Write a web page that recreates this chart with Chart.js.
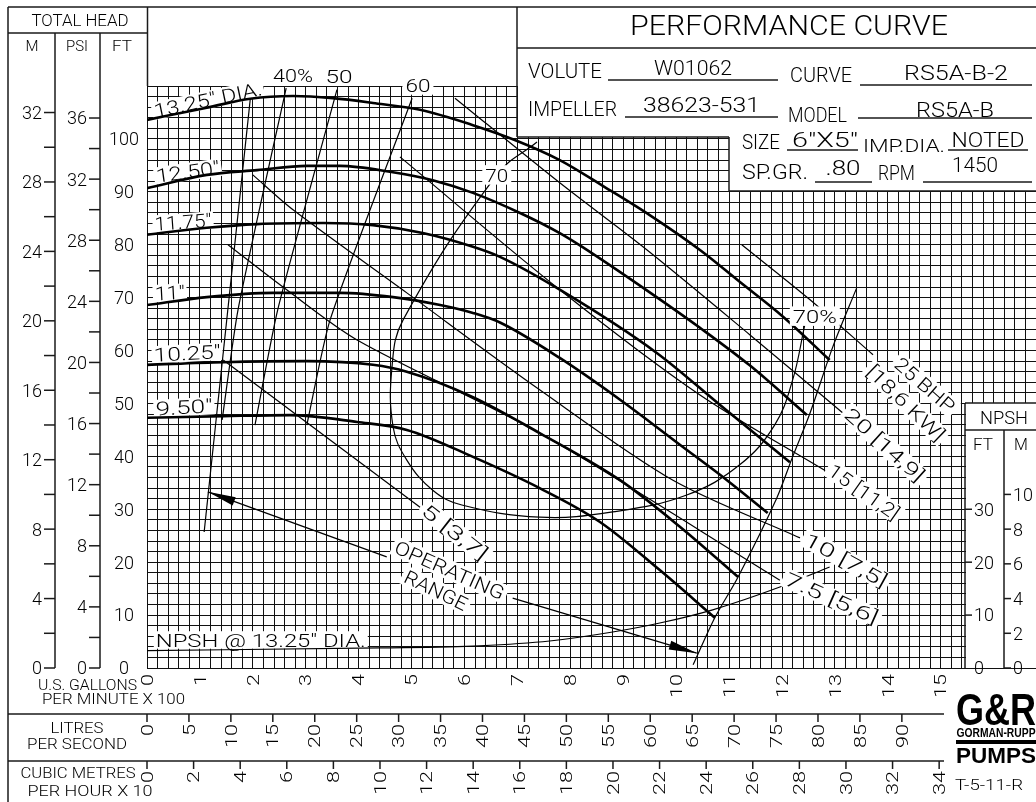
<!DOCTYPE html>
<html>
<head>
<meta charset="utf-8">
<script src="https://cdn.jsdelivr.net/npm/chart.js@4.4.1/dist/chart.umd.min.js"></script>
<style>
  html, body { margin: 0; padding: 0; background: #fff; }
  canvas { display: block; }
</style>
</head>
<body>
<canvas id="curve" width="1036" height="802"></canvas>
<script>
// flow is U.S. GPM x 100, head in feet
const q1325 = [0, 1.13, 1.95, 2.76, 3.51, 4.27, 5.16, 6.16, 6.95, 7.80, 8.65, 9.50, 10.45, 11.20, 12.02, 12.90];
const h1325 = [103.6, 105.9, 107.6, 108.1, 107.7, 106.8, 105.5, 102.6, 99.8, 96.0, 90.9, 85.6, 79.0, 73.0, 66.4, 58.2];
const q1250 = [0, 1.13, 2.08, 3.02, 3.65, 4.59, 5.40, 6.16, 7.05, 7.80, 8.24, 9.50, 10.45, 11.39, 12.47];
const h1250 = [90.7, 93.2, 94.1, 94.9, 94.9, 93.8, 92.2, 89.8, 86.0, 82.2, 79.5, 71.0, 64.3, 57.2, 47.8];
const q1175 = [0, 1.13, 2.08, 3.33, 4.27, 5.21, 6.16, 6.67, 7.80, 9.64, 10.83, 12.15];
const h1175 = [81.9, 83.2, 83.9, 84.1, 83.7, 82.2, 79.6, 77.7, 71.5, 59.5, 49.7, 38.9];
const q1100 = [0, 1.13, 2.38, 3.65, 4.65, 5.54, 6.16, 6.67, 7.80, 8.94, 10.07, 10.96, 11.73];
const h1100 = [68.6, 70.1, 70.9, 70.9, 70.1, 68.6, 67.1, 65.3, 58.6, 50.7, 42.2, 35.5, 29.3];
const q1025 = [0, 1.44, 3.02, 4.27, 4.91, 6.16, 7.42, 8.94, 10.07, 11.17];
const h1025 = [57.3, 57.8, 58.0, 57.3, 56.0, 51.2, 44.4, 35.5, 26.7, 17.2];
const q950 = [0, 1.44, 2.70, 3.97, 4.91, 6.16, 7.42, 8.56, 9.69, 10.73];
const h950 = [47.3, 47.6, 47.8, 46.5, 45.0, 39.9, 34.0, 27.6, 18.5, 9.5];

// efficiency lines
const eff40Q = [2.63, 1.72, 1.42];
const eff40H = [109.6, 67.7, 46.9];
const eff50Q = [3.59, 2.47, 2.04];
const eff50H = [109.3, 67.7, 45.9];
const eff60Q = [5.01, 3.46, 3.02];
const eff60H = [107.7, 65.8, 45.9];
const eff70Q = [7.37, 6.61, 4.84, 4.63, 4.65, 4.91, 5.40, 5.95, 7.42, 8.80, 10.20, 11.20, 11.86, 12.20, 12.43];
const eff70H = [99.4, 93.2, 65.8, 56.9, 45.6, 39.3, 33.6, 30.8, 28.5, 29.5, 32.7, 38.4, 45.9, 54.4, 64.8];

// brake horsepower lines
const bhp25Q = [11.24, 12.53, 13.72];
const bhp25H = [80.0, 69.6, 59.2];
const bhp20Q = [5.82, 7.80, 9.45, 11.39, 13.15];
const bhp20H = [107.7, 91.7, 79.0, 63.0, 48.2];
const bhp15Q = [4.78, 7.80, 10.45, 12.85];
const bhp15H = [96.6, 71.5, 51.6, 37.1];
const bhp10Q = [2.00, 2.76, 4.91, 7.42, 9.94, 12.34];
const bhp10H = [93.2, 86.6, 70.9, 52.6, 35.5, 24.6];
const bhp75Q = [1.53, 2.57, 3.97, 7.42, 11.96];
const bhp75H = [80.0, 72.0, 62.0, 44.4, 16.6];
const bhp5Q = [1.44, 5.16];
const bhp5H = [58.2, 30.4];

// operating range limits and pointers
const opLeftQ = [1.95, 1.08];
const opLeftH = [107.4, 25.7];
const opRightQ = [13.41, 12.96, 12.53, 12.20, 11.90, 11.17, 10.73, 10.32];
const opRightH = [71.8, 60.7, 48.2, 39.9, 32.1, 17.2, 9.5, 0.6];
const arrowUpQ = [4.53, 1.15];
const arrowUpH = [21.0, 33.3];
const arrowDownQ = [6.91, 10.39];
const arrowDownH = [13.2, 2.8];

// NPSH required @ 13.25" dia.
const npshQ = [0, 4.40, 6.29, 7.61, 8.80, 9.69, 10.69, 11.96, 12.90];
const npshFt = [3.3, 3.8, 4.2, 5.1, 6.8, 8.5, 11.0, 15.3, 19.1];

// tick labels
const gpmTicks = [0, 1, 2, 3, 4, 5, 6, 7, 8, 9, 10, 11, 12, 13, 14, 15];
const lpsTicks = [0, 5, 10, 15, 20, 25, 30, 35, 40, 45, 50, 55, 60, 65, 70, 75, 80, 85, 90];
const m3hTicks = [0, 2, 4, 6, 8, 10, 12, 14, 16, 18, 20, 22, 24, 26, 28, 30, 32, 34];
const headFtLabels = [0, 10, 20, 30, 40, 50, 60, 70, 80, 90, 100];
const headPsiTicks = [0, 2, 4, 6, 8, 10, 12, 14, 16, 18, 20, 22, 24, 26, 28, 30, 32, 34, 36];
const headPsiLabels = [0, 4, 8, 12, 16, 20, 24, 28, 32, 36];
const headMTicks = [0, 2, 4, 6, 8, 10, 12, 14, 16, 18, 20, 22, 24, 26, 28, 30, 32];
const headMLabels = [0, 4, 8, 12, 16, 20, 24, 28, 32];
const npshFtLabels = [0, 10, 20, 30];
const npshMLabels = [0, 2, 4, 6, 8, 10];

const FT_PER_PSI = 2.31 / 0.80;
const FT_PER_M = 1 / 0.3048;
const GPM_PER_LPS = 15.850;
const GPM_PER_M3H = 4.4029;

const FONT = 'Roboto, "DejaVu Sans", sans-serif';

// text tags placed in chart units
const tags = [
  { t: '13.25" DIA.', q: 1.15, h: 107.4, rot: -12, w: 110, under: true },
  { t: '12.50"', q: 0.77, h: 93.8, rot: -8, w: 64, under: true },
  { t: '11.75"', q: 0.68, h: 84.3, rot: -4, w: 57, under: true },
  { t: '11"', q: 0.43, h: 70.9, rot: -3, w: 30, under: true },
  { t: '10.25"', q: 0.76, h: 59.5, rot: -3, w: 67, under: true },
  { t: '9.50"', q: 0.70, h: 49.3, rot: -3, w: 57, under: true },
  { t: 'NPSH @ 13.25" DIA.', q: 2.15, h: 5.3, rot: 0, w: 210, under: true },
  { t: '40%', q: 2.76, h: 112.1, w: 40 },
  { t: '50', q: 3.63, h: 111.9, w: 27 },
  { t: '60', q: 5.12, h: 110.2, w: 25 },
  { t: '70', q: 6.61, h: 93.2, w: 23 },
  { t: '70%', q: 12.62, h: 66.5, w: 44 },
  { t: '25 BHP', q: 14.70, h: 53.5, rot: 41, w: 73 },
  { t: '[18,6 KW]', q: 14.34, h: 50.1, rot: 44, w: 100 },
  { t: '20 [14,9]', q: 13.94, h: 42.2, rot: 42, w: 100 },
  { t: '15 [11,2]', q: 13.55, h: 33.3, rot: 35, w: 82 },
  { t: '10 [7,5]', q: 13.21, h: 20.4, rot: 29, w: 92 },
  { t: '7.5 [5,6]', q: 12.94, h: 13.2, rot: 24, w: 100 },
  { t: '5 [3,7]', q: 5.82, h: 25.7, rot: 38, w: 78 },
  { t: 'OPERATING', q: 5.72, h: 18.5, rot: 24, w: 118 },
  { t: 'RANGE', q: 5.46, h: 14.7, rot: 26, w: 68 }
];

function txt(ctx, s, x, y, o) {
  o = o || {};
  const size = o.size || 19;
  ctx.save();
  ctx.translate(x, y);
  if (o.rot) ctx.rotate(o.rot * Math.PI / 180);
  ctx.font = (o.bold ? '700 ' : '300 ') + size + 'px ' + (o.family || FONT);
  const nat = ctx.measureText(s).width;
  const sx = o.w ? o.w / nat : 1;
  const w = nat * sx;
  const x0 = o.align === 'left' ? 0 : o.align === 'right' ? -w : -w / 2;
  const cap = size * 0.71;
  if (o.bg) {
    const p = o.pad == null ? 3 : o.pad;
    ctx.fillStyle = '#fff';
    ctx.fillRect(x0 - p, -cap / 2 - p, w + 2 * p, cap + 2 * p);
  }
  if (!o.bgOnly) {
    ctx.fillStyle = '#000';
    ctx.textAlign = 'left';
    ctx.textBaseline = 'alphabetic';
    ctx.scale(sx, 1);
    ctx.fillText(s, x0 / sx, cap / 2);
  }
  ctx.restore();
}

function seg(ctx, x1, y1, x2, y2) {
  ctx.beginPath();
  ctx.moveTo(x1, y1);
  ctx.lineTo(x2, y2);
  ctx.stroke();
}

function arrowHead(ctx, tip, from) {
  const a = Math.atan2(tip.y - from.y, tip.x - from.x);
  ctx.save();
  ctx.translate(tip.x, tip.y);
  ctx.rotate(a);
  ctx.fillStyle = '#000';
  ctx.beginPath();
  ctx.moveTo(0, 0);
  ctx.lineTo(-28, -4.5);
  ctx.lineTo(-28, 4.5);
  ctx.closePath();
  ctx.fill();
  ctx.restore();
}

function series(q, h, width, extra) {
  return Object.assign({
    data: q.map((v, i) => ({ x: v, y: h[i] })),
    showLine: true,
    borderColor: '#000',
    borderWidth: width,
    pointRadius: 0,
    tension: 0.4,
    fill: false
  }, extra || {});
}

const mono = { cubicInterpolationMode: 'monotone' };
const straight = { tension: 0 };

const datasets = [
  series(q1325, h1325, 2.6, mono),
  series(q1250, h1250, 2.6, mono),
  series(q1175, h1175, 2.6, mono),
  series(q1100, h1100, 2.6, mono),
  series(q1025, h1025, 2.6, mono),
  series(q950, h950, 2.6, mono),
  series(eff40Q, eff40H, 1.2, { tension: 0.2 }),
  series(eff50Q, eff50H, 1.2, { tension: 0.2 }),
  series(eff60Q, eff60H, 1.2, { tension: 0.2 }),
  series(eff70Q, eff70H, 1.2, { tension: 0.4 }),
  series(bhp25Q, bhp25H, 1.2, { tension: 0.3 }),
  series(bhp20Q, bhp20H, 1.2, { tension: 0.3 }),
  series(bhp15Q, bhp15H, 1.2, { tension: 0.3 }),
  series(bhp10Q, bhp10H, 1.2, { tension: 0.3 }),
  series(bhp75Q, bhp75H, 1.2, { tension: 0.3 }),
  series(bhp5Q, bhp5H, 1.2, straight),
  series(opLeftQ, opLeftH, 1.2, straight),
  series(opRightQ, opRightH, 1.2, { tension: 0.3 }),
  series(npshQ, npshFt, 1.2, mono),
  series(arrowUpQ, arrowUpH, 1.2, straight),
  series(arrowDownQ, arrowDownH, 1.2, straight)
];
const ARROW_SETS = [19, 20];

const sheet = {
  id: 'sheet',
  beforeDatasetsDraw(chart) {
    const ctx = chart.ctx;
    const xs = chart.scales.x, ys = chart.scales.y;
    tags.filter(t => t.under).forEach(t => {
      txt(ctx, t.t, xs.getPixelForValue(t.q), ys.getPixelForValue(t.h),
        { rot: t.rot, w: t.w, bg: true, bgOnly: true, pad: 2 });
    });
  },
  afterDatasetsDraw(chart) {
    const ctx = chart.ctx;
    const xs = chart.scales.x, ys = chart.scales.y;
    const X = v => xs.getPixelForValue(v);
    const Y = v => ys.getPixelForValue(v);

    ARROW_SETS.forEach(i => {
      const pts = chart.getDatasetMeta(i).data;
      arrowHead(ctx, pts[pts.length - 1], pts[pts.length - 2]);
    });

    tags.forEach(t => {
      txt(ctx, t.t, X(t.q), Y(t.h), { rot: t.rot, w: t.w, bg: !t.under, pad: 3 });
    });

    ctx.save();
    ctx.strokeStyle = '#1a1a1a';
    ctx.lineWidth = 1.5;

    // title block
    ctx.fillStyle = '#fff';
    ctx.fillRect(518, 8, 518, 129);
    ctx.fillRect(729, 136, 307, 55);
    seg(ctx, 8, 7, 1036, 7);
    seg(ctx, 517, 7, 517, 137);
    seg(ctx, 517, 48, 1036, 48);
    seg(ctx, 517, 137, 729, 137);
    seg(ctx, 729, 137, 729, 191);
    seg(ctx, 729, 191, 1036, 191);

    txt(ctx, 'PERFORMANCE CURVE', 789, 25, { size: 28, w: 318 });
    const rows = [
      ['VOLUTE', 528, 71, 74, 'W01062', 608, 778, 80, 68, 'CURVE', 790, 75, 62, 'RS5A-B-2', 860, 1032, 85, 73],
      ['IMPELLER', 528, 109, 89, '38623-531', 625, 778, 117, 105, 'MODEL', 788, 115, 59, 'RS5A-B', 858, 1032, 118, 110]
    ];
    rows.forEach(r => {
      txt(ctx, r[0], r[1], r[2], { size: 21, w: r[3], align: 'left' });
      seg(ctx, r[5], r[7], r[6], r[7]);
      txt(ctx, r[4], (r[5] + r[6]) / 2, r[8], { size: 21, w: r[6] - r[5] > 150 ? (r[4].length * 13) : null });
      txt(ctx, r[9], r[10], r[11], { size: 21, w: r[12], align: 'left' });
      seg(ctx, r[14], r[16], r[15], r[16]);
      txt(ctx, r[13], (r[14] + r[15]) / 2 + 10, r[17], { size: 21, w: r[13].length * 13 });
    });
    txt(ctx, 'SIZE', 742, 142, { size: 21, w: 38, align: 'left' });
    seg(ctx, 787, 150, 858, 150);
    txt(ctx, '6"X5"', 825, 140, { size: 21, w: 66 });
    txt(ctx, 'IMP.DIA.', 863, 146, { size: 18, w: 82, align: 'left' });
    seg(ctx, 948, 150, 1028, 150);
    txt(ctx, 'NOTED', 988, 140, { size: 21, w: 73 });
    txt(ctx, 'SP.GR.', 742, 172, { size: 21, w: 66, align: 'left' });
    seg(ctx, 815, 182, 872, 182);
    txt(ctx, '.80', 843, 168, { size: 21, w: 35 });
    txt(ctx, 'RPM', 878, 173, { size: 21, w: 37, align: 'left' });
    seg(ctx, 923, 182, 1032, 182);
    txt(ctx, '1450', 975, 165, { size: 21, w: 46 });

    // total head columns
    seg(ctx, 8, 7, 8, 802);
    seg(ctx, 8, 33, 147, 33);
    seg(ctx, 55, 33, 55, Y(0));
    seg(ctx, 100, 33, 100, Y(0));
    seg(ctx, 147.5, 7, 147.5, Y(110));
    txt(ctx, 'TOTAL HEAD', 80, 20, { size: 17, w: 97 });
    txt(ctx, 'M', 32, 46, { size: 15 });
    txt(ctx, 'PSI', 77, 46, { size: 15, w: 22 });
    txt(ctx, 'FT', 122, 46, { size: 15, w: 20 });
    headMTicks.forEach(m => seg(ctx, 44, Y(m * FT_PER_M), 55, Y(m * FT_PER_M)));
    headMLabels.forEach(m => txt(ctx, String(m), 42, Y(m * FT_PER_M), { size: 18, align: 'right' }));
    headPsiTicks.forEach(p => seg(ctx, 89, Y(p * FT_PER_PSI), 100, Y(p * FT_PER_PSI)));
    headPsiLabels.forEach(p => txt(ctx, String(p), 87, Y(p * FT_PER_PSI), { size: 18, align: 'right' }));
    headFtLabels.forEach(f => txt(ctx, String(f), 124, Y(f), { size: 18 }));

    // NPSH box
    ctx.fillStyle = '#fff';
    ctx.fillRect(966, 403, 70, Y(0) - 403);
    seg(ctx, 965, 403, 1036, 403);
    seg(ctx, 965, 403, 965, Y(0));
    seg(ctx, 965, 430, 1036, 430);
    seg(ctx, 1004, 430, 1004, Y(0));
    txt(ctx, 'NPSH', 1004, 418, { size: 18, w: 48 });
    txt(ctx, 'FT', 983, 444, { size: 16, w: 20 });
    txt(ctx, 'M', 1021, 444, { size: 16 });
    npshFtLabels.forEach(f => {
      if (f > 0) seg(ctx, 965, Y(f), 972, Y(f));
      txt(ctx, String(f), 974, Y(f), { size: 18, align: 'left' });
    });
    npshMLabels.forEach(m => {
      seg(ctx, 1004, Y(m * FT_PER_M), 1011, Y(m * FT_PER_M));
      txt(ctx, String(m), 1013, Y(m * FT_PER_M), { size: 18, align: 'left' });
    });

    // flow scales
    const vtxt = (s, x, y) => txt(ctx, s, x, y, { size: 16, rot: -90, align: 'right', w: 12 * s.length });
    gpmTicks.forEach(v => vtxt(String(v), X(v), Y(0) + 6));
    txt(ctx, 'U.S. GALLONS', 38, 685, { size: 15, w: 99, align: 'left' });
    txt(ctx, 'PER MINUTE X 100', 42, 699, { size: 15, w: 143, align: 'left' });

    seg(ctx, 8, 714, 944, 714);
    seg(ctx, 8, 761, 944, 761);
    txt(ctx, 'LITRES', 77, 728, { size: 15, w: 53 });
    txt(ctx, 'PER SECOND', 77, 744, { size: 15, w: 100 });
    lpsTicks.forEach(v => {
      const x = X(v * GPM_PER_LPS / 100);
      seg(ctx, x, 714, x, 722);
      vtxt(String(v), x, 724);
    });
    txt(ctx, 'CUBIC METRES', 78, 773, { size: 15, w: 115 });
    txt(ctx, 'PER HOUR X 10', 90, 791, { size: 15, w: 125 });
    m3hTicks.forEach(v => {
      const x = X(v * 10 * GPM_PER_M3H / 100);
      seg(ctx, x, 761, x, 769);
      vtxt(String(v), x, 771);
    });

    // logo
    txt(ctx, 'G&R', 996, 709, { size: 44, w: 80, bold: true, family: '"Liberation Sans", Arial, sans-serif' });
    txt(ctx, 'GORMAN-RUPP', 996, 733, { size: 12, w: 79, bold: true, family: '"Liberation Sans", Arial, sans-serif' });
    ctx.fillStyle = '#000';
    ctx.fillRect(956, 740, 80, 4);
    txt(ctx, 'PUMPS', 996, 755, { size: 22, w: 80, bold: true, family: '"Liberation Sans", Arial, sans-serif' });
    txt(ctx, 'T-5-11-R', 955, 785, { size: 15, w: 68, align: 'left' });
    ctx.restore();
  }
};

new Chart(document.getElementById('curve'), {
  type: 'scatter',
  data: { datasets: datasets },
  options: {
    responsive: false,
    animation: false,
    events: [],
    layout: { padding: { left: 147, top: 86, right: 0, bottom: 134 } },
    plugins: { legend: { display: false }, tooltip: { enabled: false } },
    scales: {
      x: {
        type: 'linear', min: 0, max: 16.8,
        ticks: { display: false, stepSize: 0.2, maxTicksLimit: 1000 },
        grid: { color: '#111', lineWidth: 1, drawTicks: false },
        border: { display: false }
      },
      y: {
        type: 'linear', min: 0, max: 110,
        ticks: { display: false, stepSize: 2, maxTicksLimit: 1000 },
        grid: { color: '#111', lineWidth: 1, drawTicks: false },
        border: { display: false }
      }
    }
  },
  plugins: [sheet]
});
</script>
</body>
</html>
